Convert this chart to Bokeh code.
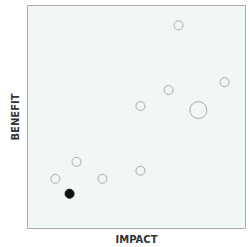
from bokeh.plotting import figure
from bokeh.models import Range1d, ColumnDataSource, FixedTicker
from bokeh.embed import file_html
from bokeh.resources import INLINE

# data (arbitrary 0-10 scale)
impact = [6.93, 9.04, 6.47, 5.18, 2.25, 1.28, 3.44, 5.18]
benefit = [9.11, 6.56, 6.21, 5.49, 2.99, 2.23, 2.23, 2.59]
big_impact = [7.84]
big_benefit = [5.31]
sel_impact = [1.93]
sel_benefit = [1.56]

p = figure(width=251, height=247, output_backend="svg", toolbar_location=None,
           x_range=Range1d(0, 10), y_range=Range1d(0, 10),
           min_border_left=27, min_border_right=6, min_border_top=5, min_border_bottom=18)

p.background_fill_color = "#f1f6f6"
p.border_fill_color = "white"
p.outline_line_color = "#aaaaaa"
p.outline_line_width = 1
p.grid.visible = False

for ax in (p.xaxis[0], p.yaxis[0]):
    ax.ticker = FixedTicker(ticks=[])
    ax.major_tick_line_color = None
    ax.minor_tick_line_color = None
    ax.major_tick_out = 0
    ax.major_tick_in = 0
    ax.minor_tick_out = 0
    ax.major_label_standoff = 0
    ax.axis_line_color = None
    ax.axis_label_text_font = "DejaVu Sans"
    ax.axis_label_text_font_style = "bold"
    ax.axis_label_text_font_size = "10px"
    ax.axis_label_text_color = "#333333"
p.xaxis.axis_label = "IMPACT"
p.yaxis.axis_label = "BENEFIT"
p.xaxis[0].axis_label_standoff = 5
p.yaxis[0].axis_label_standoff = 7

src = ColumnDataSource(dict(x=impact, y=benefit))
p.scatter("x", "y", source=src, size=9, fill_color=None, line_color="#aaaaaa", line_width=1)
p.scatter(big_impact, big_benefit, size=17, fill_color=None, line_color="#aaaaaa", line_width=1)
p.scatter(sel_impact, sel_benefit, size=9, fill_color="#111111", line_color="#111111")

open("out.html", "w").write(file_html(p, INLINE))
